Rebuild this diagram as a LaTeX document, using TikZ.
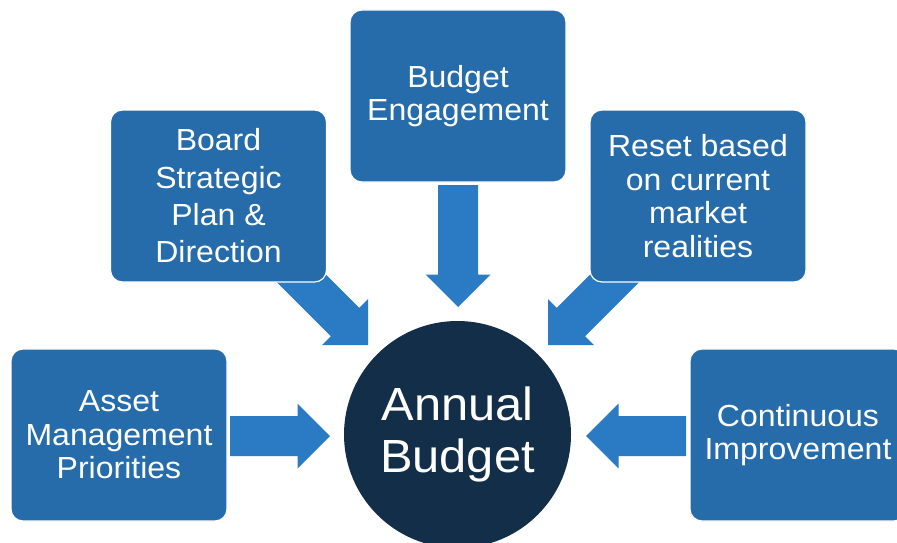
\documentclass[tikz,border=0pt]{standalone}
\usepackage{fontspec}
\setmainfont[FakeStretch=1.05]{Liberation Sans}
\usetikzlibrary{calc,backgrounds}
\definecolor{boxblue}{HTML}{266CAB}
\definecolor{arrowblue}{HTML}{2B7BC4}
\definecolor{hubnavy}{HTML}{122E48}
% block arrow from #1 to #2: shaft half-width 20pt, head 32.5pt long, 32.5pt half-width
\newcommand\blockarrow[2]{%
  \fill[blk] ($(#1)!20pt!90:(#2)$)
    -- ($($(#2)!32.5pt!(#1)$)!20pt!90:(#2)$)
    -- ($($(#2)!32.5pt!(#1)$)!32.5pt!90:(#2)$)
    -- (#2)
    -- ($($(#2)!32.5pt!(#1)$)!32.5pt!-90:(#2)$)
    -- ($($(#2)!32.5pt!(#1)$)!20pt!-90:(#2)$)
    -- ($(#1)!20pt!-90:(#2)$) -- cycle;}
\begin{document}
\begin{tikzpicture}[x=1pt,y=-1pt,
  box/.style={draw=white, line width=1.2pt, fill=boxblue, rounded corners=12pt,
    minimum width=216pt, minimum height=172pt, text=white, align=center,
    font=\fontsize{30.5}{33.5}\selectfont, inner sep=0pt},
  hub/.style={circle, fill=hubnavy, draw=none, minimum size=227pt, text=white,
    align=center, font=\fontsize{46.5}{52.4}\selectfont, inner sep=0pt},
  blk/.style={fill=arrowblue, draw=none}]
\useasboundingbox (0,0) rectangle (897,543);
\clip (0,0) rectangle (897,543);

\node[box] (engage) at (458,96) {Budget\\Engagement};
\node[box, font=\fontsize{30.5}{37.3}\selectfont] (board) at (218.5,196) {Board\\Strategic\\Plan \&\\Direction};
\node[box] (reset) at (698,196) {Reset based\\on current\\market\\realities};
\node[box] (asset) at (119,435) {Asset\\Management\\Priorities};
\node[box] (cont) at (798,435) {Continuous\\Improvement};
\node[hub] (hub) at (457.5,434.5) {Annual\\Budget};

% arrow end points
\coordinate (eS) at (458,185);  \coordinate (eT) at (458,307);
\coordinate (bS) at (283,260);  \coordinate (bT) at (368,345);
\coordinate (rS) at (633,260);  \coordinate (rT) at (548,345);
\coordinate (aS) at (230,436);  \coordinate (aT) at (330,436);
\coordinate (cS) at (686,436);  \coordinate (cT) at (586,436);

\begin{scope}[on background layer]
  \blockarrow{eS}{eT}
  \blockarrow{bS}{bT}
  \blockarrow{rS}{rT}
  \blockarrow{aS}{aT}
  \blockarrow{cS}{cT}
\end{scope}
\end{tikzpicture}
\end{document}
